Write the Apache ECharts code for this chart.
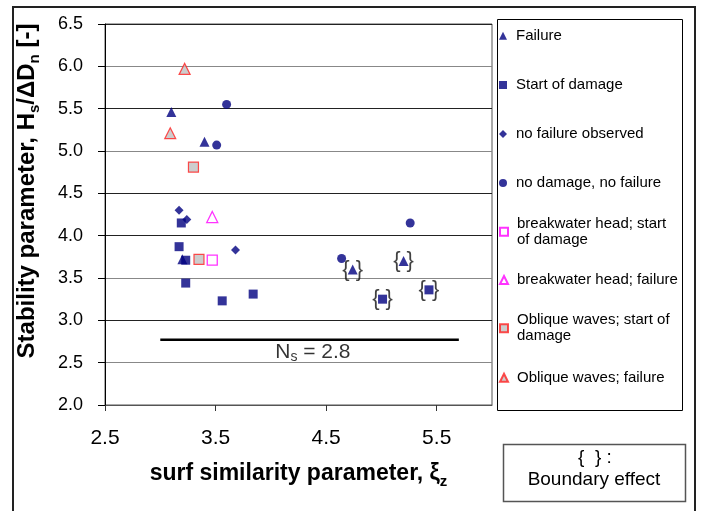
<!DOCTYPE html>
<html><head><meta charset="utf-8">
<script src="https://cdn.jsdelivr.net/npm/echarts@6/dist/echarts.min.js"></script>
<style>html,body{margin:0;padding:0;background:#fff}#c{width:702px;height:511px}</style>
</head><body><div id="c"></div>
<script>
// ---- data ----
const failure = [[3.10,5.46],[3.40,5.11],[3.20,3.72]];
const failureBoundary = [[4.74,3.60],[5.20,3.70]];
const startDamage = [[3.19,4.15],[3.17,3.87],[3.23,3.71],[3.23,3.44],[3.84,3.31],[3.56,3.23]];
const startDamageBoundary = [[5.01,3.25],[5.43,3.36]];
const noFailureObserved = [[3.17,4.30],[3.24,4.19],[3.68,3.83]];
const noDamageNoFailure = [[3.60,5.55],[3.51,5.07],[5.26,4.15],[4.64,3.73]];
const headStart = [[3.47,3.71]];
const headFailure = [[3.47,4.22]];
const obliqueStart = [[3.30,4.81],[3.35,3.72]];
const obliqueFailure = [[3.22,5.97],[3.09,5.21]];
const nsLine = [[3.0,2.77],[5.7,2.77]];
const nsLabelPoint = [[4.38,2.77]];
const xTicks = [2.5,3.5,4.5,5.5];
const seriesNames = ['Failure','Start of damage','no failure observed','no damage, no failure',
  'breakwater head; start of damage','breakwater head; failure','Oblique waves; start of damage','Oblique waves; failure'];
const legendLabels = ['Failure','Start of damage','no failure observed','no damage, no failure',
  'breakwater head; start\nof damage','breakwater head; failure','Oblique waves; start of\ndamage','Oblique waves; failure'];

const FONT = 'Liberation Sans, Arial, sans-serif';
const NAVY = '#000080';
const diamond = 'path://M0,-1L1,0L0,1L-1,0Z';

const chart = echarts.init(document.getElementById('c'), null, {renderer:'canvas'});

const braceLabel = {show:true, position:'inside', formatter: () => '{ }', color:'#111', fontSize:22, fontFamily:FONT};

const legendCenters = [35.7, 85, 134, 183, 231.7, 280, 328.3, 377.7];
const legends = seriesNames.map((n,i) => {
  const two = legendLabels[i].indexOf('\n') >= 0;
  return {
    data:[n], left:499, top: two ? legendCenters[i]-24 : legendCenters[i]-8,
    orient:'vertical', itemWidth:8, itemHeight:8, padding:0, selectedMode:false,
    formatter: () => legendLabels[i],
    textStyle:{fontSize:15, color:'#000', fontFamily:FONT, lineHeight:16,
      padding: two ? [16,0,0,4] : [0,0,0,4]}
  };
});

const ySplitColors = ['#555','#888','#222','#888','#222','#222','#888','#222','#888','#222'];

const option = {
  animation:false,
  backgroundColor:'#fff',
  grid:{left:105, right:210, top:24, bottom:106, show:true, borderColor:'#555', borderWidth:1, containLabel:false},
  legend: legends,
  xAxis:{
    type:'value', min:2.5, max:6.0, interval:1,
    axisLine:{show:true, onZero:false, lineStyle:{color:'#555', width:1}},
    axisTick:{show:true, length:6, lineStyle:{color:'#333'}, customValues: xTicks},
    axisLabel:{fontSize:21, color:'#000', fontFamily:FONT, margin:23, customValues: xTicks,
      formatter: v => v.toFixed(1)},
    splitLine:{show:false},
    name:'{b|surf similarity parameter, ξ}{s|z}', nameLocation:'middle', nameGap:54,
    nameTextStyle:{rich:{
      b:{fontSize:23, fontWeight:'bold', color:'#000', fontFamily:FONT, lineHeight:30},
      s:{fontSize:15, fontWeight:'bold', color:'#000', fontFamily:FONT, lineHeight:15, verticalAlign:'bottom'}
    }}
  },
  yAxis:{
    type:'value', min:2.0, max:6.5, interval:0.5,
    axisLine:{show:true, onZero:false, lineStyle:{color:'#000', width:1}},
    axisTick:{show:true, length:7, lineStyle:{color:'#000'}},
    axisLabel:{fontSize:18, color:'#000', fontFamily:FONT, margin:22, formatter: v => v.toFixed(1)},
    splitLine:{show:true, lineStyle:{color:ySplitColors, width:1}},
    name:'{b|Stability parameter, H}{s|s}{b|/ΔD}{s|n}{b| [-]}', nameLocation:'middle', nameGap:63,
    nameTextStyle:{padding:[0,0,0,47], rich:{
      b:{fontSize:24, fontWeight:'bold', color:'#000', fontFamily:FONT, lineHeight:30},
      s:{fontSize:15, fontWeight:'bold', color:'#000', fontFamily:FONT, lineHeight:15, verticalAlign:'bottom'}
    }}
  },
  series:[
    {name:seriesNames[0], type:'scatter', data:failure, symbol:'triangle', symbolSize:10, itemStyle:{color:NAVY}},
    {name:seriesNames[0], type:'scatter', data:failureBoundary, symbol:'triangle', symbolSize:10, itemStyle:{color:NAVY}, label:braceLabel},
    {name:seriesNames[1], type:'scatter', data:startDamage, symbol:'rect', symbolSize:9, itemStyle:{color:NAVY}},
    {name:seriesNames[1], type:'scatter', data:startDamageBoundary, symbol:'rect', symbolSize:9, itemStyle:{color:NAVY}, label:braceLabel},
    {name:seriesNames[2], type:'scatter', data:noFailureObserved, symbol:diamond, symbolSize:9, itemStyle:{color:NAVY}},
    {name:seriesNames[3], type:'scatter', data:noDamageNoFailure, symbol:'circle', symbolSize:9, itemStyle:{color:NAVY}},
    {name:seriesNames[4], type:'scatter', data:headStart, symbol:'rect', symbolSize:10, itemStyle:{color:'#fff', borderColor:'#ff00ff', borderWidth:1.3}},
    {name:seriesNames[5], type:'scatter', data:headFailure, symbol:'triangle', symbolSize:11, itemStyle:{color:'#fff', borderColor:'#ff00ff', borderWidth:1.3}},
    {name:seriesNames[6], type:'scatter', data:obliqueStart, symbol:'rect', symbolSize:10, itemStyle:{color:'#c0c0c0', borderColor:'#ff2020', borderWidth:1.2}},
    {name:seriesNames[7], type:'scatter', data:obliqueFailure, symbol:'triangle', symbolSize:11, itemStyle:{color:'#c0c0c0', borderColor:'#ff2020', borderWidth:1.2}},
    {name:'Ns', type:'line', data:nsLine, symbol:'none', lineStyle:{color:'#000', width:2.5}, silent:true, z:1},
    {name:'NsLabel', type:'scatter', data:nsLabelPoint, symbolSize:0, silent:true,
      label:{show:true, position:'inside', offset:[0,12], formatter: () => '{n|N}{s|s}{n| = 2.8}',
        rich:{n:{fontSize:21, color:'#000', fontFamily:FONT, lineHeight:24},
              s:{fontSize:14, color:'#000', fontFamily:FONT, lineHeight:14, verticalAlign:'bottom'}}}}
  ],
  graphic:[
    {type:'rect', shape:{x:13, y:7, width:682, height:520}, style:{fill:'none', stroke:'#222', lineWidth:2}, silent:true, z:-1},
    {type:'rect', shape:{x:497.5, y:19.5, width:185, height:391}, style:{fill:'none', stroke:'#000', lineWidth:1}, silent:true},
    {type:'rect', shape:{x:503.5, y:444.5, width:182, height:57}, style:{fill:'none', stroke:'#555', lineWidth:1.5}, silent:true},
    {type:'text', x:595, y:458, style:{text:'{  } :', fontSize:19, fontFamily:FONT, fill:'#000', align:'center', verticalAlign:'middle'}, silent:true},
    {type:'text', x:594, y:480, style:{text:'Boundary effect', fontSize:19, fontFamily:FONT, fill:'#000', align:'center', verticalAlign:'middle'}, silent:true}
  ]
};
chart.setOption(option);
</script>
</body></html>
